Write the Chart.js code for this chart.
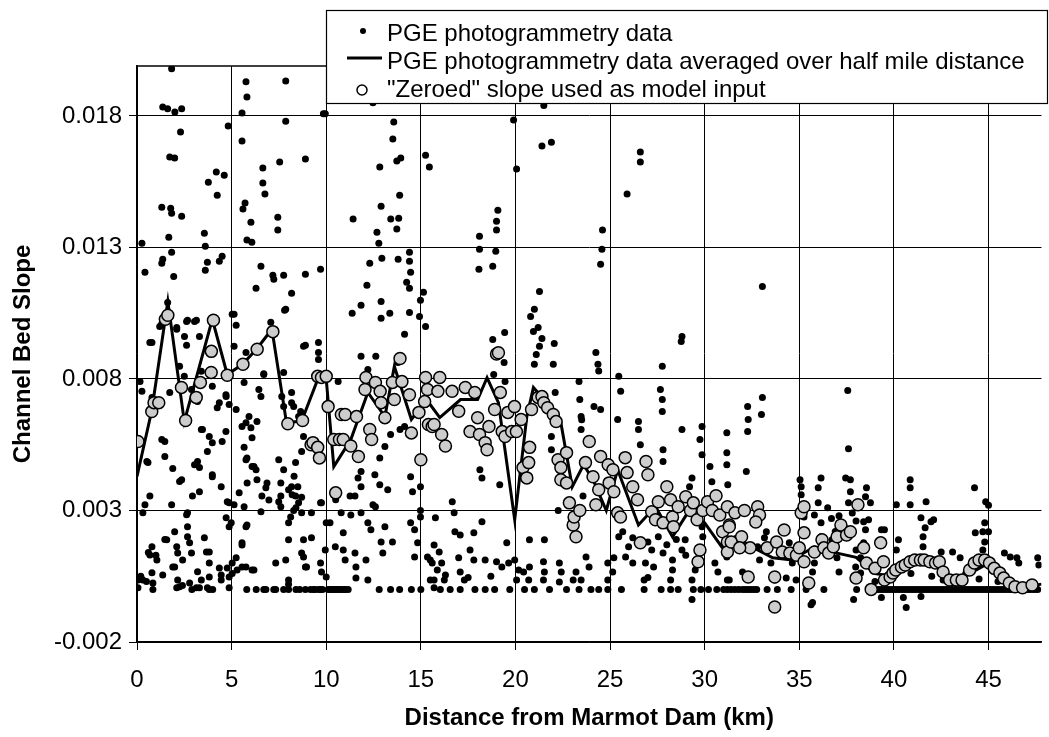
<!DOCTYPE html>
<html>
<head>
<meta charset="utf-8">
<script src="https://cdn.jsdelivr.net/npm/chart.js@4.4.1/dist/chart.umd.min.js"></script>
<style>
  html, body { margin: 0; padding: 0; background: #fff; }
  #wrap { width: 1049px; height: 737px; }
</style>
</head>
<body>
<div id="wrap"><canvas id="slopeChart"></canvas></div>
<script>
// Tick labels
const xTicks = [0, 5, 10, 15, 20, 25, 30, 35, 40, 45];
const yTicks = [-0.002, 0.003, 0.008, 0.013, 0.018];

// PGE photogrammetry data averaged over half mile distance
const avgKm = [0.0, 0.78, 1.63, 2.5, 3.98, 4.77, 5.56, 6.3, 7.13, 7.9, 8.7, 9.59, 10.0, 10.4, 11.3, 12.2, 13.1, 13.6, 14.5, 15.3,
    16.0, 17.1, 18.0, 18.5, 19.1, 19.96, 20.6, 20.95, 21.5, 22.4, 23.0, 23.6, 24.1, 24.8, 25.4, 26.5, 27.4, 28.3, 29.1, 30.0,
    30.9, 31.6, 32.8, 33.6, 34.6, 35.8, 37.0, 38.0, 39.0, 40.0, 41.0, 42.0, 43.0, 44.0, 45.0, 46.0, 47.0, 47.8];
const avgSlope = [0.0043, 0.0068, 0.01095, 0.00638, 0.01027, 0.00817, 0.00855, 0.00912, 0.00989, 0.00634, 0.0064, 0.00806, 0.008, 0.00467, 0.0057, 0.00749, 0.00657, 0.00848, 0.00646, 0.00722,
    0.00653, 0.00722, 0.00722, 0.00805, 0.0071, 0.00265, 0.00657, 0.00768, 0.00722, 0.00634, 0.0039, 0.00474, 0.00417, 0.003, 0.00455, 0.00245, 0.00315, 0.002, 0.00291, 0.00253,
    0.00162, 0.002, 0.0015, 0.0012, 0.00112, 0.00162, 0.00138, 0.00122, 0.0006, 0.0005, 0.001, 0.001, 0.0004, 0.0006, 0.001, 0.0003, 0.0001, 0.0002];

// "Zeroed" slope used as model input  [km, slope]
const zeroedPoints = [[0.05,0.00562],[0.78,0.00676],[0.9,0.0071],[1.15,0.0071],[1.5,0.01027],[1.63,0.01042],[2.35,0.00768],[2.57,0.00642],[3.13,0.0073],[3.35,0.00787],
    [3.92,0.00825],[3.93,0.00905],[4.04,0.01023],[4.77,0.00814],[5.6,0.00856],[6.35,0.00913],[7.18,0.0098],[7.97,0.0063],[8.75,0.00642],[9.2,0.0055],
    [9.3,0.00558],[9.55,0.0054],[9.64,0.005],[9.55,0.0081],[9.75,0.00806],[10.0,0.0081],[10.1,0.00695],[10.4,0.0057],[10.5,0.00367],[10.7,0.0057],
    [10.8,0.00665],[10.9,0.0057],[11.0,0.00665],[11.3,0.00545],[11.6,0.00657],[11.7,0.00505],[12.05,0.0076],[12.1,0.00806],[12.3,0.00608],[12.4,0.0057],
    [12.6,0.00787],[12.85,0.00753],[12.9,0.0071],[13.1,0.00653],[13.5,0.00787],[13.6,0.00722],[13.9,0.00878],[14.0,0.0079],[14.4,0.0074],[14.5,0.00595],
    [14.9,0.00673],[15.0,0.00493],[15.2,0.00714],[15.25,0.00806],[15.35,0.0076],[15.4,0.00627],[15.6,0.00619],[15.7,0.00627],[15.9,0.00753],[16.0,0.00806],
    [16.1,0.00589],[16.3,0.00545],[16.65,0.00753],[17.0,0.00677],[17.35,0.00768],[17.6,0.006],[17.85,0.00749],[18.0,0.00653],[18.1,0.00589],[18.4,0.00558],
    [18.5,0.00531],[18.6,0.00619],[18.9,0.00684],[19.0,0.00895],[19.1,0.009],[19.2,0.00749],[19.3,0.006],[19.45,0.00581],[19.6,0.00673],[19.8,0.006],
    [19.95,0.00695],[20.05,0.006],[20.3,0.00646],[20.4,0.00463],[20.6,0.00424],[20.7,0.00482],[20.75,0.0054],[20.85,0.00684],[21.2,0.0073],[21.4,0.00733],
    [21.5,0.0071],[21.7,0.00691],[22.0,0.00665],[22.15,0.00638],[22.25,0.00493],[22.4,0.00463],[22.4,0.00417],[22.7,0.0052],[22.7,0.00405],[22.85,0.00329],
    [23.05,0.00245],[23.1,0.00275],[23.2,0.002],[23.4,0.003],[23.7,0.00482],[23.9,0.00562],[24.1,0.00428],[24.25,0.00322],[24.4,0.00379],[24.5,0.00505],
    [24.9,0.00474],[24.95,0.00405],[25.15,0.00455],[25.2,0.00371],[25.4,0.00291],[25.55,0.00275],[25.8,0.00501],[25.9,0.00444],[26.2,0.0039],[26.45,0.00341],
    [26.6,0.00177],[26.9,0.00486],[27.0,0.00436],[27.2,0.00295],[27.4,0.00265],[27.55,0.00333],[27.8,0.00253],[28.0,0.0039],[28.2,0.00341],[28.3,0.00275],
    [28.35,0.00238],[28.6,0.00314],[29.0,0.00352],[29.25,0.003],[29.4,0.00329],[29.6,0.00265],[29.65,0.00105],[29.75,0.0015],[29.9,0.003],[30.15,0.00333],
    [30.4,0.003],[30.6,0.00356],[30.8,0.00283],[30.95,0.00219],[31.2,0.0018],[31.2,0.00142],[31.3,0.00245],[31.2,0.00314],[31.6,0.00291],[32.1,0.003],
    [32.8,0.00314],[32.9,0.00283],[32.7,0.00256],[31.3,0.00238],[31.95,0.002],[31.4,0.0018],[32.4,0.00158],[31.85,0.00158],[33.3,0.00158],[33.8,0.0018],
    [34.2,0.00226],[34.1,0.00142],[33.7,0.00047],[32.3,0.00047],[33.7,-0.00067],[34.5,0.00138],[34.85,0.0013],[35.0,0.00158],[35.25,0.00105],[35.1,0.00291],
    [35.25,0.00314],[35.25,0.00215],[35.5,0.00024],[35.8,0.00142],[36.2,0.00189],[36.3,0.00158],[36.55,0.00138],[36.8,0.00162],[37.0,0.002],[37.2,0.00245],
    [37.5,0.00207],[37.7,0.00219],[38.1,0.00322],[38.0,0.00043],[38.4,0.00158],[38.55,0.001],[38.8,0.0],[39.0,0.0008],[39.3,0.00177],[39.45,0.00105],
    [39.5,0.00036],[39.8,0.00047],[39.95,0.00062],[40.1,0.00074],[40.4,0.00085],[40.6,0.00093],[40.85,0.00105],[41.1,0.00112],[41.4,0.00112],[41.6,0.00112],
    [41.9,0.00105],[42.2,0.001],[42.4,0.00105],[42.6,0.00066],[42.95,0.00036],[43.3,0.00036],[43.6,0.00036],[44.0,0.00074],[44.25,0.001],[44.5,0.00112],
    [44.8,0.00112],[45.05,0.001],[45.3,0.0008],[45.6,0.00062],[45.8,0.00043],[46.1,0.00024],[46.4,0.0001],[46.8,0.00006],[47.3,0.00017]];

// PGE photogrammetry data  [km, slope], split by area of the plot
const dotsHigh = [[1.83,0.0198],[1.36,0.01834],[1.62,0.01827],[2.0,0.01815],[2.36,0.01827],[5.76,0.0193],[5.81,0.01872],[7.86,0.01933],[5.55,0.01811],[7.86,0.0178],
    [9.95,0.01808],[9.85,0.01808],[4.82,0.01762],[2.3,0.01739],[5.55,0.01705],[1.73,0.01644],[1.99,0.0164],[4.19,0.01587],[4.61,0.01575],[3.77,0.01548],
    [4.24,0.01499],[6.65,0.01602],[6.65,0.01545],[6.76,0.01503],[7.54,0.01625],[8.9,0.01636],[5.71,0.01469],[5.6,0.01446],[1.31,0.01453],[1.78,0.01449],
    [1.83,0.0143],[2.36,0.01419],[1.68,0.01339],[3.56,0.01354],[3.61,0.01305],[6.02,0.01396],[7.44,0.01415],[7.44,0.01366],[5.81,0.01328],[6.07,0.0132],
    [0.26,0.01316],[1.83,0.01282],[1.36,0.01255],[1.31,0.0124],[0.42,0.01206],[1.94,0.0119],[3.72,0.01244],[3.61,0.01213],[4.35,0.01248],[4.5,0.01267],
    [6.55,0.01229],[7.18,0.01194],[7.23,0.01179],[7.75,0.01194],[8.9,0.01198],[9.7,0.01217],[6.29,0.01145],[8.17,0.01126],[7.8,0.01061],[5.13,0.01046],
    [5.24,0.01004],[1.62,0.01091],[1.57,0.01038],[2.62,0.01019],[3.04,0.01019],[2.1,0.00996],[1.2,0.01],[0.79,0.00939],[2.51,0.00962],[2.62,0.00928],
    [3.3,0.00962],[5.13,0.00924],[5.76,0.00901],[8.9,0.00928],[9.59,0.00939],[9.59,0.00901],[0.68,0.00939],[1.31,0.0101],[2.1,0.00989],[2.67,0.01023],
    [3.14,0.01023],[5.03,0.01046],[7.07,0.01016],[7.86,0.01065],[8.8,0.00924],[9.59,0.00874],
    [12.3,0.0124],[12.94,0.01259],[13.8,0.01255],[14.4,0.01282],[14.4,0.01248],[14.46,0.01206],[14.25,0.01168],[14.4,0.01145],[15.14,0.0113],[14.98,0.01099],
    [12.15,0.01156],[11.84,0.0108],[11.37,0.0105],[12.9,0.01095],[12.9,0.01031],[13.36,0.0105],[14.4,0.01053],[14.93,0.01038],[15.25,0.01],[14.14,0.0097],
    [12.68,0.01358],[12.78,0.01316],[12.9,0.01457],[11.42,0.01408],[13.41,0.01408],[13.83,0.01411],[13.73,0.0137],[13.88,0.01499],[13.94,0.0164],[13.73,0.01629],
    [12.83,0.01606],[13.52,0.01712],[13.57,0.01777],[12.47,0.0185],[15.25,0.01651],[15.45,0.01606],[19.9,0.01785],[21.5,0.0184],[21.4,0.01686],[21.9,0.017],
    [20.06,0.01598],[26.6,0.01663],[26.6,0.01625],[25.9,0.01503],[19.07,0.01442],[19.0,0.014],[19.0,0.01366],[18.1,0.01343],[18.1,0.01293],[18.96,0.01286],
    [18.07,0.01217],[18.8,0.01229],[24.6,0.01366],[24.57,0.01293],[24.5,0.01236],[21.27,0.01133],[21.0,0.01065],[20.8,0.01038],[21.2,0.00996],[20.95,0.00981],
    [21.4,0.00954],[21.27,0.00924],[22.05,0.00935],[19.43,0.00977],[18.8,0.0095],[24.25,0.00901],[28.8,0.00962],[28.76,0.00943],[33.05,0.01152],[11.84,0.00886],
    [12.62,0.00886],[13.78,0.00863],[12.2,0.00836],[10.63,0.0079]];

const dotsMiddle = [[0.16,0.0079],[0.26,0.00753],[0.79,0.0073],[1.73,0.00749],[2.25,0.00848],[2.5,0.0081],[2.88,0.0076],[3.2,0.00714],[3.4,0.00829],[3.98,0.00772],
    [4.35,0.0071],[4.7,0.0074],[4.87,0.00703],[5.24,0.00684],[5.66,0.00787],[5.76,0.00634],[5.92,0.00657],[6.34,0.00638],[6.44,0.0076],[6.7,0.00817],
    [7.75,0.00825],[7.65,0.00733],[7.75,0.00695],[8.17,0.0071],[8.17,0.00749],[8.65,0.00676],[3.4,0.00608],[3.98,0.00558],[3.72,0.00524],[4.7,0.006],
    [4.5,0.00562],[1.31,0.0057],[1.47,0.00562],[0.52,0.00486],[1.89,0.0046],[2.36,0.00417],[3.2,0.00486],[3.3,0.00463],[5.66,0.0054],[5.76,0.00493],
    [6.08,0.00467],[6.29,0.00455],[7.49,0.00493],[7.75,0.00455],[8.38,0.00482],[8.7,0.00524],[0.68,0.00355],[0.42,0.00322],[0.31,0.00291],[0.58,0.00482],
    [1.47,0.00505],[2.25,0.0041],[1.83,0.00322],[3.04,0.00474],[2.93,0.00355],[3.46,0.00608],[3.82,0.00581],[3.98,0.00428],[4.24,0.00691],[4.71,0.00733],
    [4.87,0.00329],[5.13,0.00322],[5.55,0.00619],[5.66,0.00314],[6.02,0.00615],[6.08,0.00577],[5.81,0.005],[6.18,0.00467],[6.55,0.00733],[6.7,0.0082],
    [6.34,0.00417],[6.6,0.00355],[6.81,0.00386],[7.6,0.00405],[7.6,0.00355],[7.6,0.00314],[8.01,0.00379],[8.17,0.0039],[8.38,0.00355],[8.54,0.00329],
    [8.28,0.003],[8.7,0.00291],[8.28,0.00695],[8.54,0.00657],[8.8,0.00581],[9.75,0.00329],[3.3,0.00371],[3.98,0.00436],[4.45,0.0039],[4.77,0.00333],
    [5.4,0.00367],[5.82,0.00405],[6.87,0.00405],[6.97,0.0034],[7.49,0.00333],[6.55,0.00295],[2.67,0.00291],[9.7,0.00329],[10.5,0.00341],[8.2,0.0036],
    [8.4,0.0031],[8.5,0.0039],[8.7,0.0035],[8.3,0.0043],
    [13.1,0.00543],[13.4,0.00589],[13.9,0.00608],[14.14,0.00619],[12.83,0.005],[11.84,0.00448],[11.68,0.00424],[11.26,0.00355],[12.47,0.00322],[12.57,0.00436],
    [12.83,0.00398],[13.25,0.00379],[11.52,0.00355],[11.84,0.0039],[14.46,0.00428],[14.98,0.0039],[14.56,0.00371],[14.98,0.003],[10.79,0.00291],[11.3,0.00283],
    [11.84,0.00291],[12.6,0.00314],[18.12,0.00455],[18.23,0.00424],[19.17,0.00398],[19.4,0.00863],[19.45,0.0079],[18.85,0.00817],[21.1,0.00893],[21.0,0.00856],
    [22.0,0.00856],[24.36,0.00856],[24.4,0.0083],[23.36,0.0079],[22.1,0.00749],[23.4,0.00722],[24.15,0.00695],[24.5,0.00684],[23.47,0.00657],[23.5,0.00645],
    [23.47,0.00608],[21.9,0.00581],[21.9,0.00531],[25.46,0.0081],[25.56,0.00753],[25.4,0.00646],[26.5,0.00638],[26.5,0.00608],[26.6,0.0055],[27.76,0.00848],
    [27.66,0.0076],[27.76,0.00722],[27.76,0.00676],[27.8,0.00531],[27.8,0.00486],[28.8,0.00608],[29.86,0.00619],[29.75,0.0057],[29.86,0.00512],[30.28,0.00467],
    [31.17,0.00596],[31.17,0.0052],[31.17,0.00474],[31.22,0.00398],[30.38,0.00409],[29.33,0.00424],[29.2,0.0039],[22.26,0.003],[23.57,0.00355],[16.66,0.00333],
    [33.05,0.0073],[32.27,0.00695],[32.3,0.00646],[33.0,0.00665],[32.27,0.006],[32.2,0.00448],[37.56,0.00756],[37.6,0.00535],[37.45,0.00424],[37.7,0.00417],
    [37.7,0.00371],[37.6,0.00329],[35.04,0.00417],[35.1,0.0039],[35.1,0.0036],[36.15,0.00424],[36.0,0.00386],[36.0,0.00329],[38.5,0.00352],[38.55,0.00386],
    [38.76,0.00329],[40.86,0.00322],[40.86,0.00417],[40.86,0.00386],[40.13,0.00322],[41.7,0.00333],[44.26,0.00386],[44.85,0.00333],[45.0,0.0032]];

const dotsLowNear = [[0.79,0.00162],[0.68,0.00131],[1.05,0.00112],[0.05,0.00036],[0.05,0.00006],[0.31,0.00036],[0.79,0.00063],[0.84,0.00024],[0.84,0.0],[1.36,0.00055],
    [1.57,0.00189],[1.99,0.00219],[2.1,0.00162],[2.15,0.00138],[1.99,0.00085],[2.15,0.00036],[2.1,0.00006],[2.62,0.00284],[2.67,0.00238],[2.67,0.002],
    [2.78,0.00177],[2.88,0.00138],[2.41,0.00112],[2.78,0.00024],[3.14,0.00006],[3.2,0.00067],[3.56,0.00196],[3.82,0.00142],[3.82,0.001],[3.82,0.00047],
    [3.72,0.00006],[3.4,0.00036],[4.35,0.00081],[4.45,0.00036],[4.87,0.00047],[4.87,0.00006],[4.77,0.00081],[5.03,0.001],[4.98,0.00253],[4.71,0.00272],
    [5.24,0.0012],[5.29,0.00074],[5.76,0.00085],[6.18,0.00074],[5.81,0.00245],[5.55,0.00177],[6.81,0.0],[7.33,0.0],[8.01,0.00036],[8.01,0.0],
    [7.33,0.001],[7.86,0.00112],[8.01,0.00189],[8.12,0.00275],[8.01,0.00253],[8.8,0.00189],[8.7,0.00138],[8.96,0.00085],[9.17,0.0],[9.59,0.0],
    [10.1,0.0],[10.6,0.0],[11.16,0.0],[9.7,0.001],[9.95,0.0015],[10.0,0.00047],[9.75,0.00066],[10.0,0.00253],[1.47,0.0019],[1.89,0.00085],
    [2.25,0.0001],[3.3,0.00006],[3.82,0.0],[4.45,0.00055],[5.03,0.0006],[5.55,0.00085],[6.08,0.00074],[6.7,0.0],[7.23,0.0],[7.75,0.0],
    [8.01,0.0002],[8.9,0.0],[9.33,0.0],[9.8,0.0],[10.2,0.0],[10.4,0.0],[10.8,0.0],[11.0,0.0],[3.67,0.00142],[5.76,0.00238],
    [5.55,0.00169],[4.87,0.00238],[8.8,0.00123],[8.9,0.00085],[9.22,0.00196],[10.2,0.00253],[10.9,0.00215],[9.22,0.00291],[0.6,0.0014],[1.0,0.0013],
    [0.2,0.0005],[0.5,0.0003],[2.4,0.00015],[2.9,0.0],[4.0,0.0],[5.8,0.0],[6.3,0.0],[8.4,0.0],[8.6,0.0],
    [10.48,0.00162],[10.9,0.0015],[11.0,0.00112],[11.52,0.00138],[11.57,0.00085],[11.57,0.00043],[12.1,0.00112],[12.2,0.00036],[12.2,0.00253],[12.36,0.00227],
    [12.9,0.0018],[12.99,0.00138],[13.5,0.0018],[13.1,0.00238],[13.88,0.0],[14.46,0.00253],[14.67,0.00227],[14.83,0.00177],[14.98,0.00275],[14.67,0.00123],
    [15.35,0.00123],[15.6,0.001],[15.5,0.00036],[15.7,0.00006],[15.77,0.00272],[16.76,0.00291],[16.8,0.00219],[17.08,0.00207],[17.8,0.00215],[18.23,0.00257],
    [15.7,0.00169],[15.97,0.00142],[15.5,0.00112],[16.1,0.001],[15.87,0.00074],[15.7,0.00036],[16.24,0.00036],[16.03,0.0],[16.55,0.0],[17.08,0.0],
    [17.86,0.0],[18.4,0.0],[17.0,0.0012],[17.08,0.00066],[17.3,0.00036],[17.8,0.00112],[17.6,0.0015],[18.4,0.00112],[19.0,0.00105],[19.28,0.00085],
    [19.54,0.00177],[19.64,0.001],[19.7,0.0],[19.96,0.00112],[20.17,0.00074],[20.43,0.00066],[20.7,0.00036],[20.48,0.0],[20.06,0.00036],[20.74,0.00085],
    [20.74,0.00189],[21.53,0.00189],[21.48,0.00105],[21.53,0.00066],[21.48,0.00036],[22.32,0.001],[22.42,0.00066],[22.32,0.00028],[23.2,0.00066],[23.05,0.00036],
    [23.47,0.00036],[23.36,0.0],[23.99,0.0],[23.73,0.00123],[23.89,0.00085],[24.88,0.001],[24.88,0.00036],[24.88,0.0],[25.14,0.00066],[25.2,0.0012],
    [25.82,0.00123],[26.2,0.001],[25.98,0.00162],[25.46,0.002],[25.67,0.00219],[26.2,0.00196],[26.7,0.00177],[26.87,0.001],[27.3,0.00085],[26.8,0.00036],
    [26.8,0.0],[27.55,0.002],[27.8,0.00138],[28.3,0.00112],[28.3,0.00074],[28.2,0.00036],[28.2,0.0],[28.6,0.0],[28.97,0.00189],[28.8,0.0015],
    [29.33,0.00036],[29.4,0.0],[29.33,-0.00038],[29.5,0.00074],[29.9,0.002],[29.86,0.00238],[30.54,0.001],[30.7,0.00066],[30.64,0.0],[31.2,0.00036],
    [31.17,0.00123],[13.4,0.0],[12.8,0.0],[14.5,0.0],[15.0,0.0],[16.3,0.00055],[17.5,0.00045],[18.7,0.0005],[18.9,0.0],[21.0,0.0],
    [21.8,0.0],[22.7,0.0],[24.4,0.0],[25.6,0.0],[27.0,0.00045],[27.7,0.0],[29.8,0.0],[30.2,0.0],[27.0,0.0018],[27.2,0.0015],
    [28.0,0.0017],[28.5,0.0019],[29.0,0.0013],[9.4,0.0],[9.7,0.0],[10.3,0.0],[10.5,0.0],[10.7,0.0],[10.95,0.0]];

const dotsLowFar = [[31.0,0.0],[31.4,0.0],[31.6,0.0],[32.0,0.0],[32.3,0.0],[32.6,0.0],[33.3,0.0],[33.84,0.0],[34.57,0.0],[35.36,0.0],
    [36.3,0.0],[31.3,0.00036],[32.0,0.00066],[33.26,0.00219],[33.16,0.00196],[32.8,0.00162],[32.9,0.00112],[34.47,0.00177],[34.63,0.001],[34.31,0.00043],
    [34.83,0.00036],[35.62,-0.00058],[33.5,0.001],[33.7,0.00036],[36.73,0.00189],[36.99,0.0012],[37.1,0.00066],[35.8,0.00283],[36.15,0.00253],[36.15,0.002],
    [35.8,0.001],[35.7,0.00066],[35.7,-0.0005],[35.25,0.00275],[38.4,0.00257],[38.66,0.00265],[38.5,0.00227],[38.4,0.00177],[38.0,0.0015],[38.24,0.0012],
    [37.98,0.00085],[38.24,0.00062],[38.03,0.0],[37.87,-0.00038],[39.34,0.00227],[39.5,0.00227],[39.34,-0.00031],[40.24,0.00189],[40.13,0.0015],[40.5,-0.00031],
    [40.65,-0.00069],[41.43,0.00272],[41.65,0.00234],[41.54,0.002],[41.54,0.00162],[41.96,0.00257],[42.1,0.00265],[41.43,-0.00027],[42.5,0.00142],[43.1,0.00142],
    [43.5,0.0012],[42.6,0.00036],[44.8,0.00253],[44.7,0.00219],[44.3,0.00215],[45.0,0.00219],[44.8,0.0018],[44.7,0.0015],[45.84,0.00138],[46.15,0.00123],
    [46.5,0.0012],[46.6,0.001],[47.66,0.00093],[47.6,0.0012],[37.1,0.0028],[37.3,0.0025],[37.5,0.0023],[37.8,0.0029],[38.0,0.0026],[36.5,0.0031],
    [36.7,0.0027],[36.9,0.0022],[39.0,0.0003],[39.8,0.0004],[40.9,0.0006],[42.0,0.0005],[43.8,0.0006],[44.5,0.0004],[45.5,0.0003],
    [38.9,0.0],[39.2,0.0],[39.5,0.0],[39.8,0.0],[40.1,0.0],[40.4,0.0],[40.7,0.0],[41.0,0.0],[41.3,0.0],[41.6,0.0],
    [41.9,0.0],[42.2,0.0],[42.5,0.0],[42.8,0.0],[43.1,0.0],[43.4,0.0],[43.7,0.0],[44.0,0.0],[44.3,0.0],[44.6,0.0],
    [44.9,0.0],[45.2,0.0],[45.5,0.0],[45.8,0.0],[46.1,0.0],[46.4,0.0],[46.7,0.0],[47.0,0.0],[47.3,0.0],[47.6,0.0],
    [39.05,0.0],[39.35,0.0],[39.65,0.0],[39.95,0.0],[40.25,0.0],[40.55,0.0],[40.85,0.0],[41.15,0.0],[41.45,0.0],[41.75,0.0],
    [42.05,0.0],[42.35,0.0],[42.65,0.0],[42.95,0.0],[43.25,0.0],[43.55,0.0],[43.85,0.0],[44.15,0.0],[44.45,0.0],[44.75,0.0],
    [45.05,0.0],[45.35,0.0],[45.65,0.0],[45.95,0.0],[46.25,0.0],[46.55,0.0],[46.85,0.0],[47.15,0.0],[47.45,0.0],[31.2,0.0],
    [31.8,0.0],[32.15,0.0],[32.45,0.0],[32.75,0.0]];

const fontFamily = '"Liberation Sans", Arial, sans-serif';

// Turn [km, slope] pairs into chart points
function toXY(pairs) {
    return pairs.map(p => ({ x: p[0], y: p[1] }));
}

// Top border of the plot and the boxed legend
const frameAndLegend = {
    id: 'frameAndLegend',
    afterDraw(chart) {
        const ctx = chart.ctx;
        const area = chart.chartArea;
        ctx.save();
        ctx.strokeStyle = '#000';
        ctx.lineWidth = 1.5;
        ctx.beginPath();
        ctx.moveTo(area.left, area.top);
        ctx.lineTo(area.right, area.top);
        ctx.stroke();

        // legend box
        ctx.fillStyle = '#fff';
        ctx.fillRect(326, 10, 722, 94);
        ctx.lineWidth = 1.2;
        ctx.strokeRect(326.5, 10.5, 721, 93);

        ctx.fillStyle = '#000';
        ctx.beginPath();
        ctx.arc(363, 31, 3, 0, Math.PI * 2);
        ctx.fill();

        ctx.lineWidth = 3;
        ctx.beginPath();
        ctx.moveTo(347, 58);
        ctx.lineTo(382, 58);
        ctx.stroke();

        ctx.lineWidth = 1.5;
        ctx.fillStyle = '#fff';
        ctx.beginPath();
        ctx.arc(362, 90, 5, 0, Math.PI * 2);
        ctx.fill();
        ctx.stroke();

        ctx.fillStyle = '#000';
        ctx.font = '24px ' + fontFamily;
        ctx.textBaseline = 'alphabetic';
        ctx.textAlign = 'left';
        ctx.fillText('PGE photogrammetry data', 387, 41);
        ctx.fillText('PGE photogrammetry data averaged over half mile distance', 387, 69);
        ctx.fillText('"Zeroed" slope used as model input', 387, 97);
        ctx.restore();
    }
};

const ctxSlope = document.getElementById('slopeChart').getContext('2d');
const slopeChart = new Chart(ctxSlope, {
    type: 'scatter',
    data: {
        datasets: [
            {
                label: '"Zeroed" slope used as model input',
                data: toXY(zeroedPoints),
                pointRadius: 6,
                pointBackgroundColor: '#cdcdcd',
                pointBorderColor: '#000',
                pointBorderWidth: 1.5,
                order: 0,
            },
            {
                label: 'PGE photogrammetry data averaged over half mile distance',
                data: avgKm.map((km, i) => ({ x: km, y: avgSlope[i] })),
                showLine: true,
                borderColor: '#000',
                borderWidth: 3,
                pointRadius: 0,
                order: 1,
            },
            {
                label: 'PGE photogrammetry data',
                data: toXY(dotsHigh.concat(dotsMiddle, dotsLowNear, dotsLowFar)),
                pointRadius: 3.5,
                pointBackgroundColor: '#000',
                pointBorderWidth: 0,
                order: 2,
            },
        ],
    },
    options: {
        responsive: true,
        maintainAspectRatio: false,
        animation: false,
        layout: { padding: { top: 66, right: 0, bottom: 0, left: 0 } },
        plugins: {
            legend: { display: false },
            tooltip: { enabled: false },
        },
        scales: {
            x: {
                type: 'linear',
                min: 0,
                max: 47.8,
                afterBuildTicks: scale => { scale.ticks = xTicks.map(v => ({ value: v })); },
                afterFit: scale => { scale.height = 95; },
                grid: { color: '#000', lineWidth: 1, tickLength: 8 },
                border: { color: '#000', width: 1.5 },
                ticks: { color: '#000', padding: 16, font: { family: fontFamily, size: 24 } },
                title: {
                    display: true,
                    text: 'Distance from Marmot Dam (km)',
                    color: '#000',
                    padding: { top: 0, bottom: 4 },
                    font: { family: fontFamily, size: 24, weight: 'bold' },
                },
            },
            y: {
                type: 'linear',
                min: -0.002,
                max: 0.0199,
                afterBuildTicks: scale => { scale.ticks = yTicks.map(v => ({ value: v })); },
                afterFit: scale => { scale.width = 137; },
                grid: { color: '#000', lineWidth: 1, tickLength: 8 },
                border: { color: '#000', width: 1.5 },
                ticks: {
                    color: '#000',
                    padding: 7,
                    font: { family: fontFamily, size: 24 },
                    callback: v => v.toFixed(3),
                },
                title: {
                    display: true,
                    text: 'Channel Bed Slope',
                    color: '#000',
                    padding: { top: 9, bottom: 0 },
                    font: { family: fontFamily, size: 24, weight: 'bold' },
                },
            },
        },
    },
    plugins: [frameAndLegend],
});
</script>
</body>
</html>
